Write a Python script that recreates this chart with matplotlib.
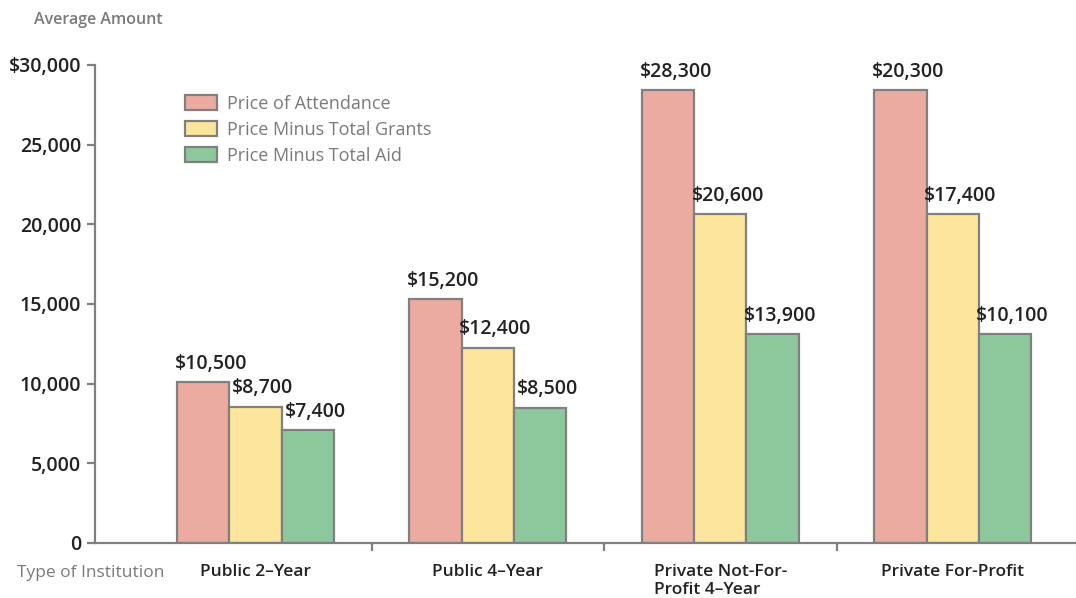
import numpy as np
import matplotlib
matplotlib.use("Agg")
import matplotlib.pyplot as plt
from matplotlib.patches import Patch

plt.rcParams["font.family"] = ["Open Sans", "DejaVu Sans"]

categories = ["Public 2\u2013Year", "Public 4\u2013Year", "Private Not-For-\nProfit 4\u2013Year", "Private For-Profit"]
series = ["Price of Attendance", "Price Minus Total Grants", "Price Minus Total Aid"]

# bar heights as drawn in the picture
attendance = [10100, 15300, 28400, 28400]
minus_grants = [8550, 12250, 20650, 20650]
minus_aid = [7100, 8500, 13100, 13100]

# printed value labels
attendance_labels = ["$10,500", "$15,200", "$28,300", "$20,300"]
grants_labels = ["$8,700", "$12,400", "$20,600", "$17,400"]
aid_labels = ["$7,400", "$8,500", "$13,900", "$10,100"]

yticks = [0, 5000, 10000, 15000, 20000, 25000, 30000]
ytick_labels = ["0", "5,000", "10,000", "15,000", "20,000", "25,000", "$30,000"]

colors = ["#ecaba1", "#fce59c", "#8dc89d"]
edge = "#808080"
gray_text = "#7a7a7a"
dark_text = "#222222"

fig = plt.figure(figsize=(10.76, 5.98), dpi=100)
ax = fig.add_axes([0.0883, 0.092, 0.9117, 0.7995])

x = np.arange(len(categories))
w = 0.225
all_vals = [attendance, minus_grants, minus_aid]
all_labels = [attendance_labels, grants_labels, aid_labels]
for i, (vals, labs) in enumerate(zip(all_vals, all_labels)):
    pos = x + (i - 1) * w
    ax.bar(pos, vals, width=w, color=colors[i], edgecolor=edge, linewidth=1.6, zorder=2)
    for p, v, t in zip(pos, vals, labs):
        ax.annotate(t, (p, v), xytext=(5.5, 6), textcoords="offset points",
                    ha="center", va="bottom", fontsize=14, fontweight="semibold",
                    color=dark_text)

ax.set_xlim(-0.69, 3.53)
ax.set_ylim(0, 30000)

for s in ["top", "right"]:
    ax.spines[s].set_visible(False)
for s in ["left", "bottom"]:
    ax.spines[s].set_color(edge)
    ax.spines[s].set_linewidth(1.6)

ax.set_yticks(yticks)
ax.set_yticklabels(ytick_labels, fontsize=14, fontweight="semibold", color=dark_text)
ax.tick_params(axis="y", length=6, width=1.6, color=edge, pad=4)

ax.set_xticks([0.5, 1.5, 2.5])
ax.set_xticklabels([])
ax.tick_params(axis="x", length=6, width=1.6, color=edge)

for xi, c in zip(x, categories):
    ax.text(xi, -1350, c, ha="center", va="top", fontsize=12.5, fontweight="semibold",
            color=dark_text, multialignment="left", linespacing=1.15)

fig.text(0.016, 0.042, "Type of Institution", fontsize=12.5, color=gray_text, va="center")
fig.text(0.032, 0.966, "Average Amount", fontsize=11.5, fontweight="semibold", color=gray_text, va="center")

handles = [Patch(facecolor=colors[i], edgecolor=edge, linewidth=1.6) for i in range(3)]
ax.legend(handles, series, loc="upper left", bbox_to_anchor=(0.164, 0.857),
          bbox_transform=fig.transFigure, frameon=False,
          prop={"size": 13, "weight": "medium"},
          handlelength=1.75, handleheight=0.9, labelspacing=0.45, handletextpad=0.55,
          borderpad=0, labelcolor=gray_text)

fig.savefig("out.png", dpi=100)
